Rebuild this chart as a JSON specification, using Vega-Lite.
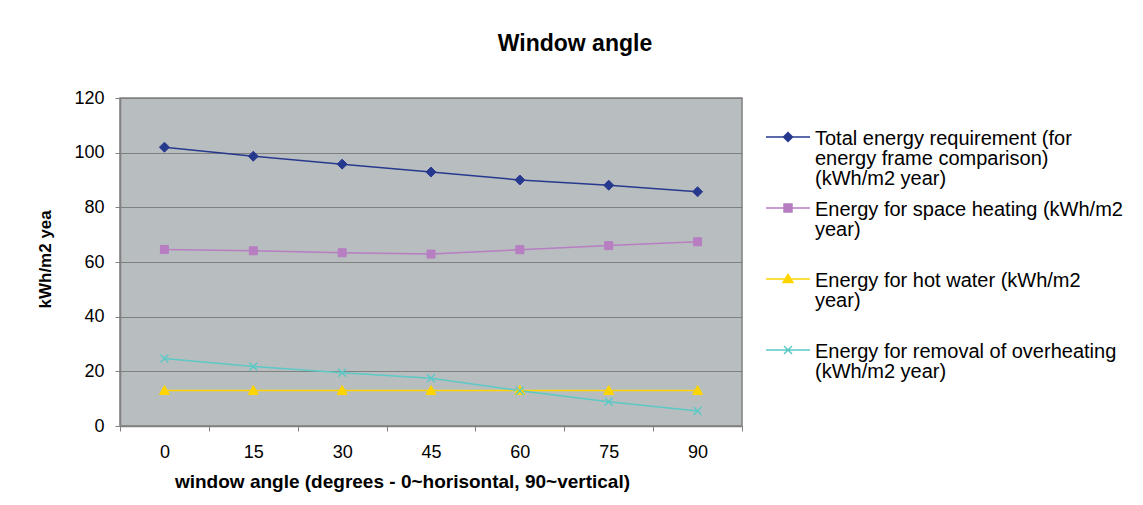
{
  "$schema": "https://vega.github.io/schema/vega-lite/v6.json",
  "width": 622,
  "height": 328,
  "autosize": {"type": "none"},
  "padding": {"left": 120, "top": 98, "right": 401, "bottom": 79},
  "background": "white",
  "config": {
    "font": "Liberation Sans",
    "view": {"fill": "#B8BDBF", "stroke": "#808080", "strokeWidth": 1.5}
  },
  "title": {"text": "Window angle", "fontSize": 23, "fontWeight": "bold", "font": "Liberation Sans", "color": "black", "anchor": "middle", "dx": 144, "offset": 33},
  "data": {"values": [
    {"angle": 0, "series": "Total energy requirement (for energy frame comparison) (kWh/m2 year)", "value": 102.0},
    {"angle": 15, "series": "Total energy requirement (for energy frame comparison) (kWh/m2 year)", "value": 98.7},
    {"angle": 30, "series": "Total energy requirement (for energy frame comparison) (kWh/m2 year)", "value": 95.8},
    {"angle": 45, "series": "Total energy requirement (for energy frame comparison) (kWh/m2 year)", "value": 92.9},
    {"angle": 60, "series": "Total energy requirement (for energy frame comparison) (kWh/m2 year)", "value": 90.0},
    {"angle": 75, "series": "Total energy requirement (for energy frame comparison) (kWh/m2 year)", "value": 88.1},
    {"angle": 90, "series": "Total energy requirement (for energy frame comparison) (kWh/m2 year)", "value": 85.7},
    {"angle": 0, "series": "Energy for space heating (kWh/m2 year)", "value": 64.6},
    {"angle": 15, "series": "Energy for space heating (kWh/m2 year)", "value": 64.1},
    {"angle": 30, "series": "Energy for space heating (kWh/m2 year)", "value": 63.4},
    {"angle": 45, "series": "Energy for space heating (kWh/m2 year)", "value": 62.9},
    {"angle": 60, "series": "Energy for space heating (kWh/m2 year)", "value": 64.5},
    {"angle": 75, "series": "Energy for space heating (kWh/m2 year)", "value": 66.0},
    {"angle": 90, "series": "Energy for space heating (kWh/m2 year)", "value": 67.4},
    {"angle": 0, "series": "Energy for hot water (kWh/m2 year)", "value": 13.0},
    {"angle": 15, "series": "Energy for hot water (kWh/m2 year)", "value": 13.0},
    {"angle": 30, "series": "Energy for hot water (kWh/m2 year)", "value": 13.0},
    {"angle": 45, "series": "Energy for hot water (kWh/m2 year)", "value": 13.0},
    {"angle": 60, "series": "Energy for hot water (kWh/m2 year)", "value": 13.0},
    {"angle": 75, "series": "Energy for hot water (kWh/m2 year)", "value": 13.0},
    {"angle": 90, "series": "Energy for hot water (kWh/m2 year)", "value": 13.0},
    {"angle": 0, "series": "Energy for removal of overheating (kWh/m2 year)", "value": 24.7},
    {"angle": 15, "series": "Energy for removal of overheating (kWh/m2 year)", "value": 21.8},
    {"angle": 30, "series": "Energy for removal of overheating (kWh/m2 year)", "value": 19.5},
    {"angle": 45, "series": "Energy for removal of overheating (kWh/m2 year)", "value": 17.5},
    {"angle": 60, "series": "Energy for removal of overheating (kWh/m2 year)", "value": 12.9},
    {"angle": 75, "series": "Energy for removal of overheating (kWh/m2 year)", "value": 8.9},
    {"angle": 90, "series": "Energy for removal of overheating (kWh/m2 year)", "value": 5.5}
  ]},
  "encoding": {
    "x": {
      "field": "angle", "type": "ordinal",
      "scale": {"type": "band", "paddingInner": 0, "paddingOuter": 0},
      "axis": {
        "title": "window angle (degrees - 0~horisontal, 90~vertical)",
        "titleFontSize": 19, "titleFontWeight": "bold", "titleColor": "black", "titlePadding": 11,
        "titleX": 282, "titleAlign": "center",
        "labelFontSize": 18, "labelColor": "black", "labelAngle": 0, "labelPadding": 12,
        "tickSize": 5, "tickColor": "#808080", "tickBand": "extent",
        "domainColor": "#808080", "domainWidth": 1.5, "grid": false
      }
    },
    "y": {
      "field": "value", "type": "quantitative",
      "scale": {"domain": [0, 120], "nice": false},
      "axis": {
        "values": [0, 20, 40, 60, 80, 100, 120],
        "grid": true, "gridColor": "#808080", "gridWidth": 1,
        "labelFontSize": 18, "labelColor": "black", "labelPadding": 11,
        "tickSize": 5, "tickColor": "#808080",
        "domainColor": "#808080", "domainWidth": 1.5,
        "title": "kWh/m2 yea", "titleFontSize": 17, "titleFontWeight": "bold", "titleColor": "black",
        "titleX": -70, "titleY": 210, "titleAngle": 270, "titleAlign": "left", "titleBaseline": "alphabetic"
      }
    },
    "color": {
      "field": "series", "type": "nominal",
      "scale": {
        "domain": [
          "Total energy requirement (for energy frame comparison) (kWh/m2 year)",
          "Energy for space heating (kWh/m2 year)",
          "Energy for hot water (kWh/m2 year)",
          "Energy for removal of overheating (kWh/m2 year)"
        ],
        "range": ["#27398E", "#B77EC2", "#FFD500", "#5CC9C6"]
      },
      "legend": {
        "orient": "none", "legendX": 658, "legendY": 21, "title": null, "padding": 0,
        "direction": "vertical", "columns": 1, "gridAlign": "all", "rowPadding": 1,
        "symbolSize": 4, "symbolStrokeWidth": 1.5,
        "labelFontSize": 20, "labelFont": "Liberation Sans", "labelColor": "black",
        "labelLimit": 600, "labelOffset": 17, "labelBaseline": "top",
        "labelExpr": "datum.index == 0 ? ['Total energy requirement (for', 'energy frame comparison)', '(kWh/m2 year)'] : datum.index == 1 ? ['Energy for space heating (kWh/m2', 'year)'] : datum.index == 2 ? ['Energy for hot water (kWh/m2', 'year)'] : ['Energy for removal of overheating', '(kWh/m2 year)']",
        "encode": {
          "labels": {"update": {"lineHeight": {"value": 20}}},
          "symbols": {"update": {
            "shape": {"signal": "datum.index == 0 ? 'M-22,8H22M-4.5,8L0,3.5L4.5,8L0,12.5Z' : datum.index == 1 ? 'M-22,8H22M-4,4H4V12H-4Z' : datum.index == 2 ? 'M-22,8H22M0,3.4L5,11.5H-5Z' : 'M-22,8H22M-4,4L4,12M-4,12L4,4'"},
            "fill": {"signal": "scale('color', datum.value)"},
            "stroke": {"signal": "scale('color', datum.value)"},
            "strokeWidth": {"value": 1.5},
            "opacity": {"value": 1},
            "size": {"value": 4}
          }}
        }
      }
    }
  },
  "layer": [
    {"mark": {"type": "line", "strokeWidth": 1.5}},
    {
      "transform": [{"filter": "datum.series == 'Total energy requirement (for energy frame comparison) (kWh/m2 year)'"}],
      "mark": {"type": "point", "filled": true, "opacity": 1, "size": 100, "strokeWidth": 1, "shape": "M-1,0L0,-1L1,0L0,1Z", "stroke": "#27398E"}
    },
    {
      "transform": [{"filter": "datum.series == 'Energy for space heating (kWh/m2 year)'"}],
      "mark": {"type": "point", "filled": true, "opacity": 1, "size": 100, "strokeWidth": 1, "shape": "M-0.8,-0.8H0.8V0.8H-0.8Z", "stroke": "#B77EC2"}
    },
    {
      "transform": [{"filter": "datum.series == 'Energy for hot water (kWh/m2 year)'"}],
      "mark": {"type": "point", "filled": true, "opacity": 1, "size": 100, "strokeWidth": 1, "shape": "M0,-1L1,0.8H-1Z", "stroke": "#FFD500"}
    },
    {
      "transform": [{"filter": "datum.series == 'Energy for removal of overheating (kWh/m2 year)'"}],
      "mark": {"type": "point", "filled": true, "opacity": 1, "size": 100, "strokeWidth": 1.5, "shape": "M-0.8,-0.8L0.8,0.8M-0.8,0.8L0.8,-0.8", "stroke": "#5CC9C6"}
    }
  ]
}
